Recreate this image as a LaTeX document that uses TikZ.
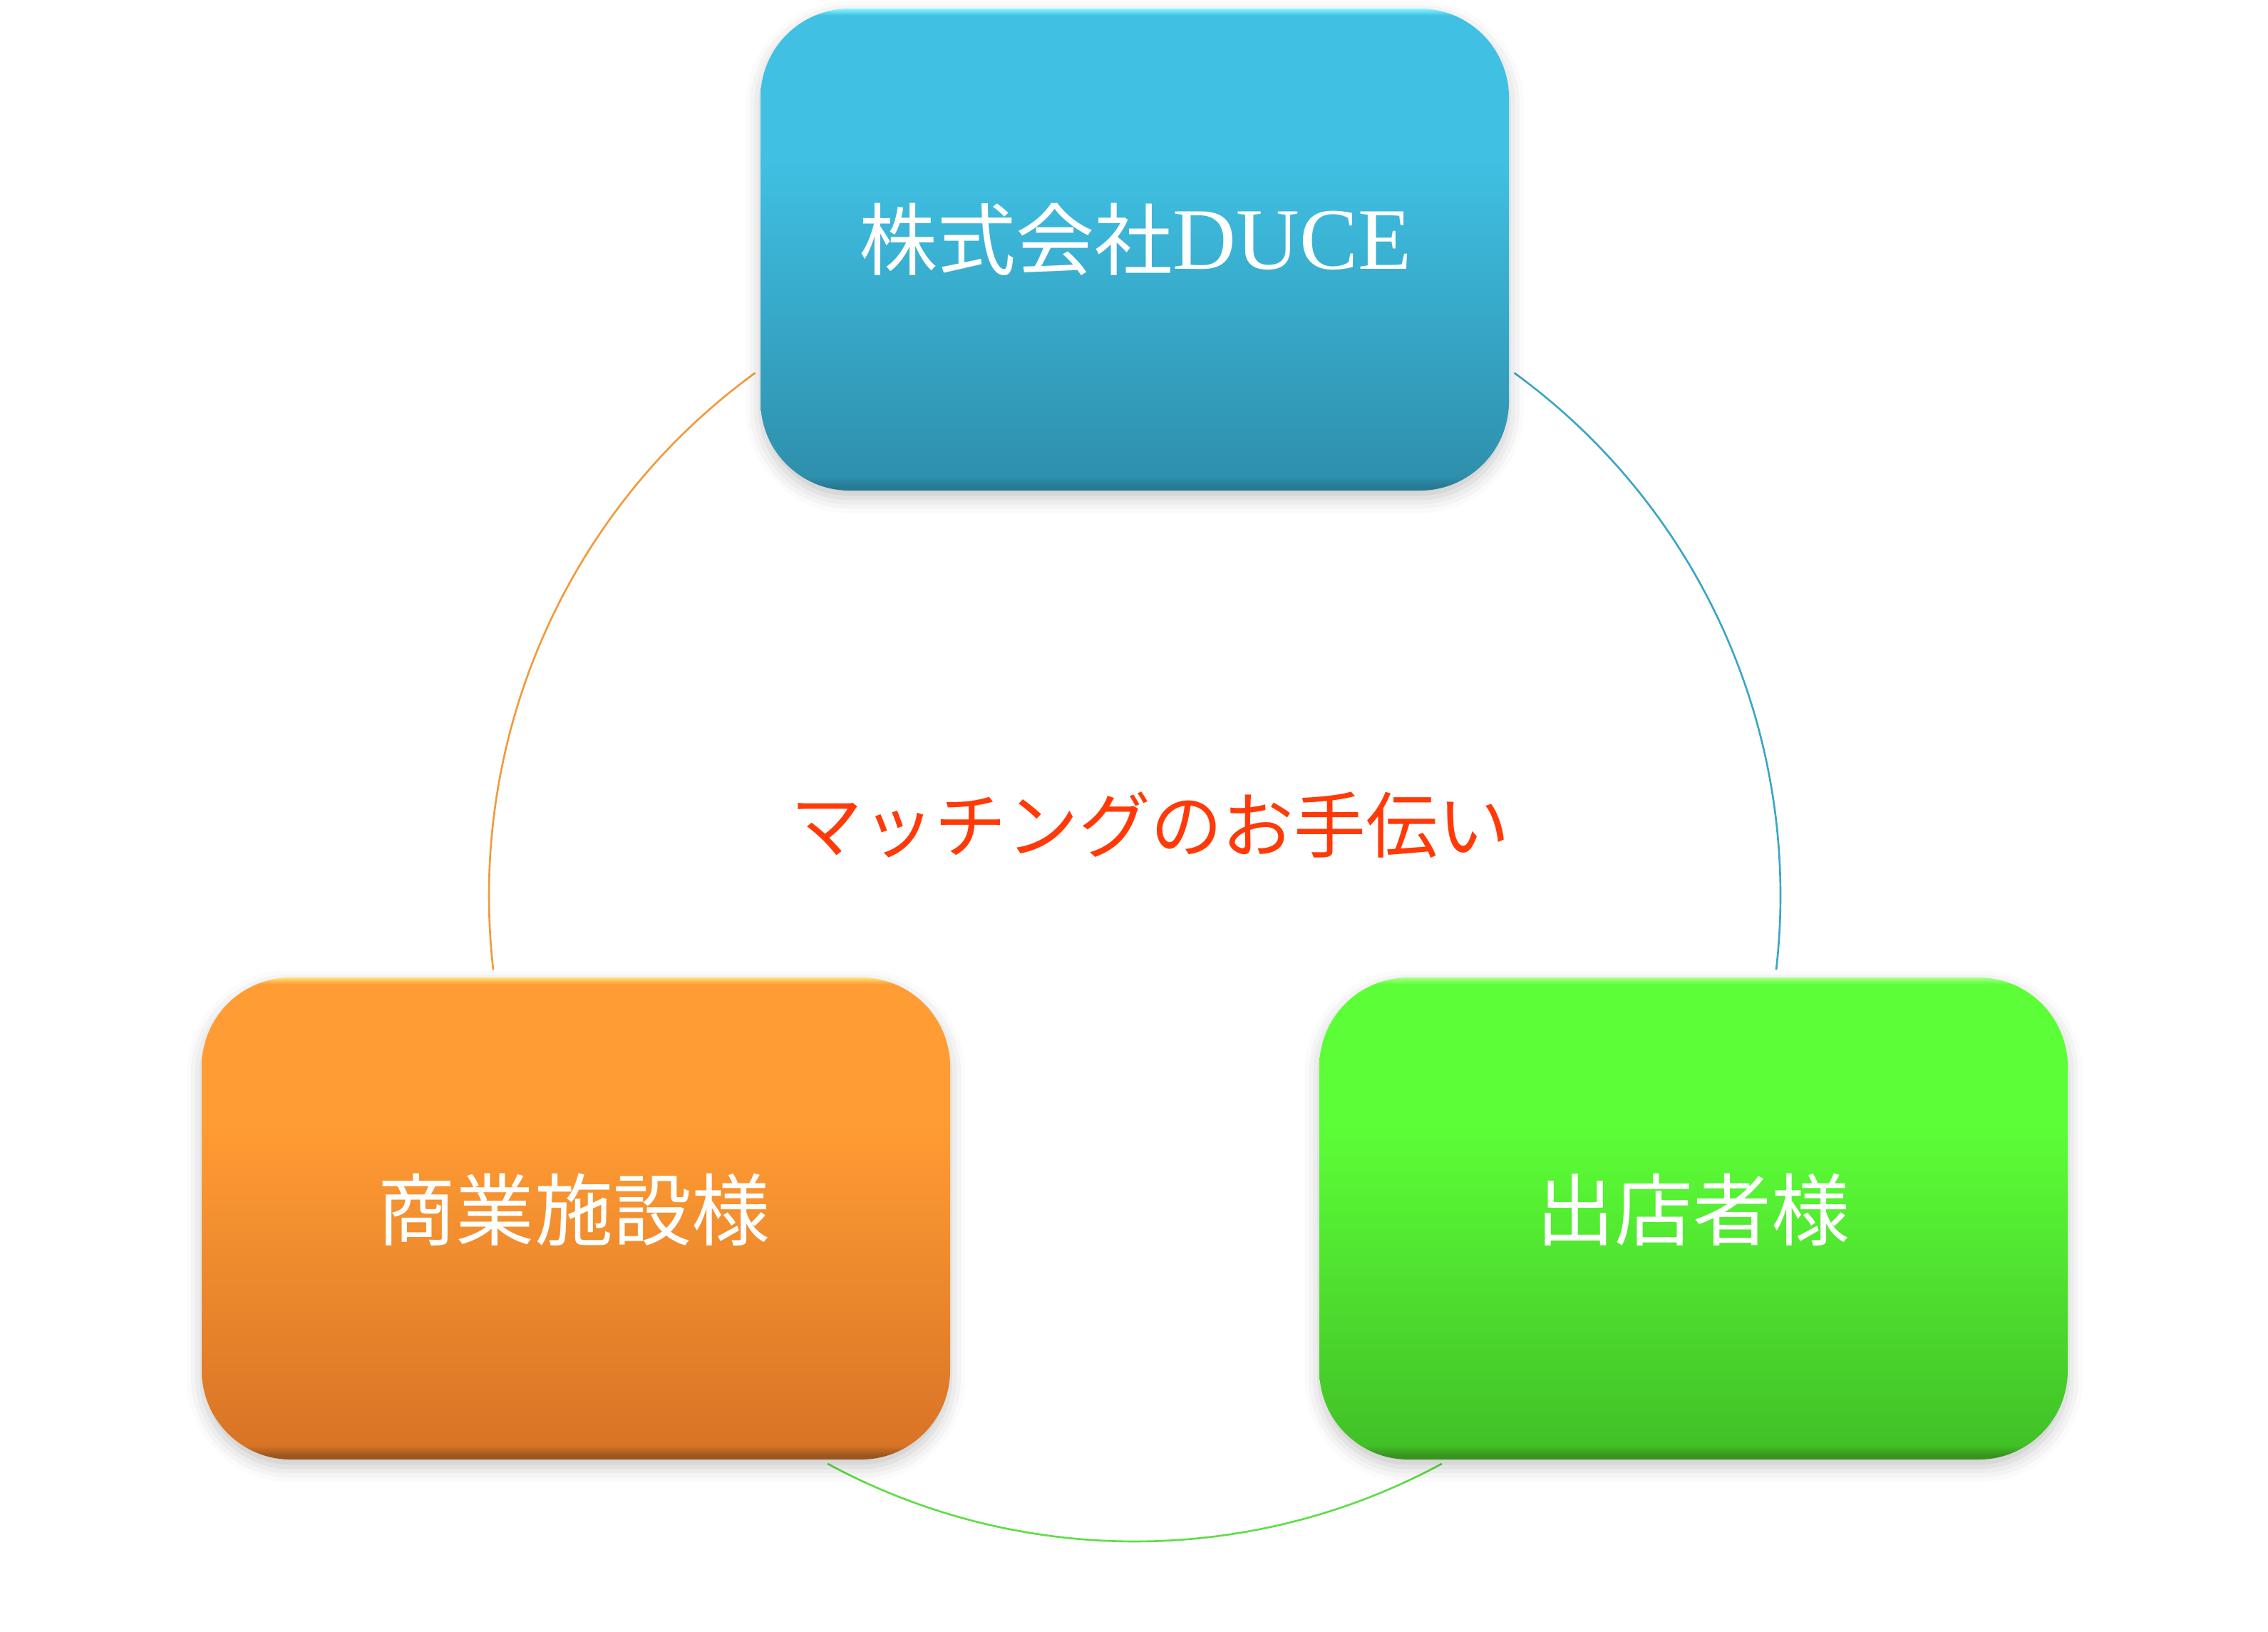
\documentclass[tikz,border=0pt]{standalone}
\usepackage{fontspec}
\newfontfamily\cjk{Noto Sans CJK JP}
\newfontfamily\lser{Liberation Serif}
\usetikzlibrary{shadows.blur}
\definecolor{bHi}{HTML}{8AF6FF}
\definecolor{bTop}{HTML}{40C1E4}
\definecolor{bBot}{HTML}{2E90AD}
\definecolor{bEdge}{HTML}{277A94}
\definecolor{oHi}{HTML}{FFE27A}
\definecolor{oTop}{HTML}{FF9C33}
\definecolor{oBot}{HTML}{D97426}
\definecolor{oEdge}{HTML}{9A561E}
\definecolor{gHi}{HTML}{A8FF8C}
\definecolor{gTop}{HTML}{5CFF37}
\definecolor{gBot}{HTML}{42C127}
\definecolor{gEdge}{HTML}{36941F}
\definecolor{arcO}{HTML}{F39A3A}
\definecolor{arcB}{HTML}{3AA6C6}
\definecolor{arcG}{HTML}{5EDE45}
\definecolor{midred}{HTML}{FF3A08}
\pgfdeclareverticalshading{blueshade}{100bp}{color(0bp)=(bEdge); color(25.4bp)=(bEdge); color(26.5bp)=(bBot); color(60bp)=(bTop); color(74.3bp)=(bTop); color(75bp)=(bHi); color(100bp)=(bHi)}
\pgfdeclareverticalshading{orangeshade}{100bp}{color(0bp)=(oEdge); color(25.4bp)=(oEdge); color(26.5bp)=(oBot); color(60bp)=(oTop); color(74.3bp)=(oTop); color(75bp)=(oHi); color(100bp)=(oHi)}
\pgfdeclareverticalshading{greenshade}{100bp}{color(0bp)=(gEdge); color(25.4bp)=(gEdge); color(26.5bp)=(gBot); color(60bp)=(gTop); color(74.3bp)=(gTop); color(75bp)=(gHi); color(100bp)=(gHi)}
\begin{document}
\begin{tikzpicture}[
  box/.style={rectangle, rounded corners=1.25cm, minimum width=10.50cm, minimum height=6.76cm,
    inner sep=0pt,
    blur shadow={shadow xshift=0pt, shadow yshift=-3pt, shadow blur radius=6pt, shadow opacity=22}},
  boxtext/.style={text=white, font=\cjk\fontsize{31.3pt}{36pt}\selectfont, inner sep=0pt},
  ring/.style={line width=0.75pt}
]
\useasboundingbox (0,0) rectangle (31.82,-22.88);
\coordinate (C) at (15.92,-12.56);
% arcs
\draw[ring, arcO] ([shift={(126.0:9.06)}]C) coordinate (oa) arc[start angle=126.0, end angle=186.6, radius=9.06] coordinate (ob);
\draw[ring, arcB] ([shift={(54.0:9.06)}]C) coordinate (ba) arc[start angle=54.0, end angle=-6.6, radius=9.06] coordinate (bb);
\draw[ring, arcG] ([shift={(241.6:9.06)}]C) coordinate (ga) arc[start angle=241.6, end angle=298.4, radius=9.06] coordinate (gb);
% boxes
\node[box, shading=blueshade] (duce) at (15.92,-3.50) {};
\node[box, shading=orangeshade] (shogyo) at (8.08,-17.09) {};
\node[box, shading=greenshade] (shutten) at (23.76,-17.09) {};
% box texts
\node[boxtext] (ducetext) at ([shift={(0.01,0.14)}]duce.center) {株式会社{\lser\fontsize{35pt}{40pt}\selectfont DUCE}};
\node[boxtext] (shogyotext) at ([shift={(-0.03,0.12)}]shogyo.center) {商業施設様};
\node[boxtext] (shuttentext) at ([shift={(-0.01,0.12)}]shutten.center) {出店者様};
% centre text
\node[text=midred, font=\cjk\fontsize{28.7pt}{34pt}\selectfont, inner sep=0pt] (match) at (16.14,-11.57) {マッチングのお手伝い};
\end{tikzpicture}
\end{document}
